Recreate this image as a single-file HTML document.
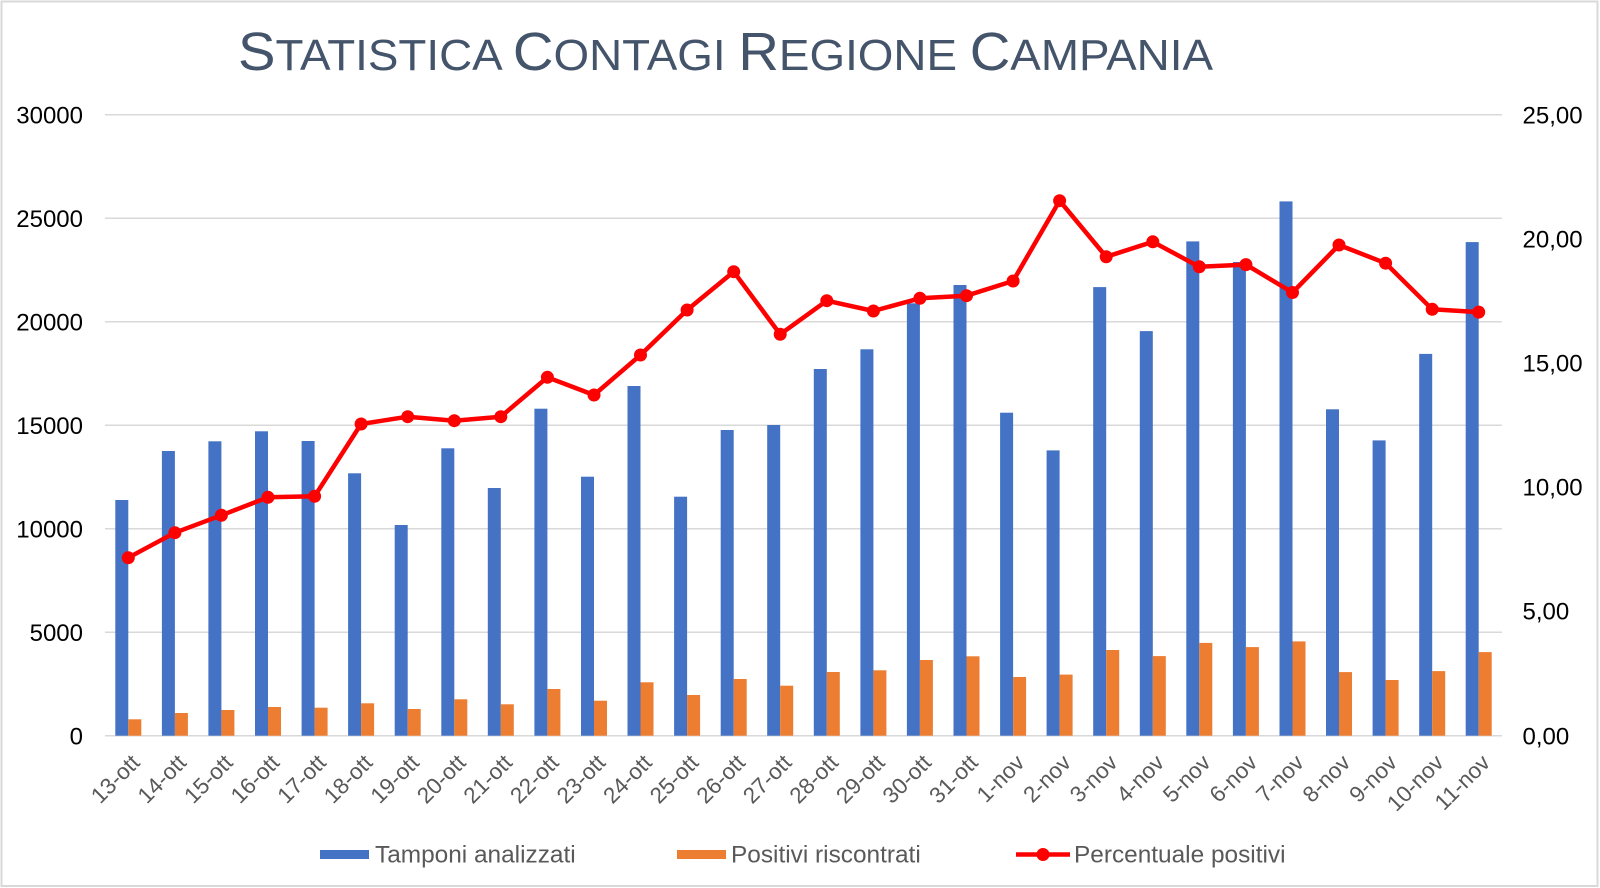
<!DOCTYPE html>
<html>
<head>
<meta charset="utf-8">
<style>
html,body{margin:0;padding:0;background:#fff;}
svg{display:block;}
text{font-family:"Liberation Sans",Arial,sans-serif;}
</style>
</head>
<body>
<svg width="1600" height="888" viewBox="0 0 1600 888" xmlns="http://www.w3.org/2000/svg">
<rect x="0" y="0" width="1600" height="888" fill="#fff"/>
<rect x="1.5" y="1.5" width="1596" height="884.5" fill="none" stroke="#d9d9d9" stroke-width="2"/>

<!-- Title -->
<text x="238" y="70" fill="#44546a" textLength="975" lengthAdjust="spacingAndGlyphs"><tspan font-size="54">S</tspan><tspan font-size="44">TATISTICA </tspan><tspan font-size="54">C</tspan><tspan font-size="44">ONTAGI </tspan><tspan font-size="54">R</tspan><tspan font-size="44">EGIONE </tspan><tspan font-size="54">C</tspan><tspan font-size="44">AMPANIA</tspan></text>

<!-- Gridlines -->
<g stroke="#d9d9d9" stroke-width="1.5">
<line x1="105" y1="114.7" x2="1502" y2="114.7"/>
<line x1="105" y1="218.2" x2="1502" y2="218.2"/>
<line x1="105" y1="321.7" x2="1502" y2="321.7"/>
<line x1="105" y1="425.2" x2="1502" y2="425.2"/>
<line x1="105" y1="528.7" x2="1502" y2="528.7"/>
<line x1="105" y1="632.2" x2="1502" y2="632.2"/>
<line x1="105" y1="735.7" x2="1502" y2="735.7"/>
</g>

<!-- Left axis labels -->
<g font-size="24" fill="#000" text-anchor="end">
<text x="83" y="123.3">30000</text>
<text x="83" y="226.8">25000</text>
<text x="83" y="330.3">20000</text>
<text x="83" y="433.8">15000</text>
<text x="83" y="537.3">10000</text>
<text x="83" y="640.8">5000</text>
<text x="83" y="744.3">0</text>
</g>

<!-- Right axis labels -->
<g font-size="24" fill="#000" text-anchor="start">
<text x="1522.5" y="123.3">25,00</text>
<text x="1522.5" y="247.3">20,00</text>
<text x="1522.5" y="371.3">15,00</text>
<text x="1522.5" y="495.3">10,00</text>
<text x="1522.5" y="619.3">5,00</text>
<text x="1522.5" y="744.3">0,00</text>
</g>

<!-- Blue bars -->
<g fill="#4472c4">
<rect x="115.3" y="500" width="13" height="235.7"/>
<rect x="161.9" y="451" width="13" height="284.7"/>
<rect x="208.4" y="441.3" width="13" height="294.4"/>
<rect x="255.0" y="431.3" width="13" height="304.4"/>
<rect x="301.6" y="441" width="13" height="294.7"/>
<rect x="348.1" y="473.3" width="13" height="262.4"/>
<rect x="394.7" y="525" width="13" height="210.7"/>
<rect x="441.3" y="448.3" width="13" height="287.4"/>
<rect x="487.8" y="488" width="13" height="247.7"/>
<rect x="534.4" y="408.7" width="13" height="327"/>
<rect x="581.0" y="476.7" width="13" height="259"/>
<rect x="627.5" y="386" width="13" height="349.7"/>
<rect x="674.1" y="496.7" width="13" height="239"/>
<rect x="720.7" y="430" width="13" height="305.7"/>
<rect x="767.2" y="425" width="13" height="310.7"/>
<rect x="813.8" y="369" width="13" height="366.7"/>
<rect x="860.4" y="349.3" width="13" height="386.4"/>
<rect x="906.9" y="303.3" width="13" height="432.4"/>
<rect x="953.5" y="285" width="13" height="450.7"/>
<rect x="1000.1" y="412.7" width="13" height="323"/>
<rect x="1046.6" y="450.4" width="13" height="285.3"/>
<rect x="1093.2" y="287.1" width="13" height="448.6"/>
<rect x="1139.8" y="331.1" width="13" height="404.6"/>
<rect x="1186.3" y="241.4" width="13" height="494.3"/>
<rect x="1232.9" y="262" width="13" height="473.7"/>
<rect x="1279.5" y="201.4" width="13" height="534.3"/>
<rect x="1326.0" y="409.3" width="13" height="326.4"/>
<rect x="1372.6" y="440.4" width="13" height="295.3"/>
<rect x="1419.2" y="353.9" width="13" height="381.8"/>
<rect x="1465.7" y="242.1" width="13" height="493.6"/>
</g>

<!-- Orange bars -->
<g fill="#ed7d31">
<rect x="128.3" y="719.3" width="13" height="16.4"/>
<rect x="174.9" y="713" width="13" height="22.7"/>
<rect x="221.4" y="710" width="13" height="25.7"/>
<rect x="268.0" y="707" width="13" height="28.7"/>
<rect x="314.6" y="707.7" width="13" height="28"/>
<rect x="361.1" y="703.3" width="13" height="32.4"/>
<rect x="407.7" y="709" width="13" height="26.7"/>
<rect x="454.3" y="699.3" width="13" height="36.4"/>
<rect x="500.8" y="704.3" width="13" height="31.4"/>
<rect x="547.4" y="689" width="13" height="46.7"/>
<rect x="594.0" y="700.7" width="13" height="35"/>
<rect x="640.5" y="682.3" width="13" height="53.4"/>
<rect x="687.1" y="695" width="13" height="40.7"/>
<rect x="733.7" y="679" width="13" height="56.7"/>
<rect x="780.2" y="685.7" width="13" height="50"/>
<rect x="826.8" y="672" width="13" height="63.7"/>
<rect x="873.4" y="670.3" width="13" height="65.4"/>
<rect x="919.9" y="660" width="13" height="75.7"/>
<rect x="966.5" y="656.3" width="13" height="79.4"/>
<rect x="1013.1" y="677" width="13" height="58.7"/>
<rect x="1059.6" y="674.6" width="13" height="61.1"/>
<rect x="1106.2" y="650" width="13" height="85.7"/>
<rect x="1152.8" y="656.1" width="13" height="79.6"/>
<rect x="1199.3" y="642.9" width="13" height="92.8"/>
<rect x="1245.9" y="647.1" width="13" height="88.6"/>
<rect x="1292.5" y="641.4" width="13" height="94.3"/>
<rect x="1339.0" y="672.1" width="13" height="63.6"/>
<rect x="1385.6" y="680" width="13" height="55.7"/>
<rect x="1432.2" y="671.1" width="13" height="64.6"/>
<rect x="1478.7" y="652.1" width="13" height="83.6"/>
</g>

<!-- Red line -->
<polyline fill="none" stroke="#ff0000" stroke-width="4.5" stroke-linejoin="round" points="128.3,557.7 174.9,532.7 221.4,515.3 268.0,497.3 314.6,496.3 361.1,424 407.7,416.7 454.3,420.7 500.8,416.7 547.4,377.3 594.0,395 640.5,355 687.1,310 733.7,271.7 780.2,334.3 826.8,300.7 873.4,311 919.9,298.3 966.5,295.7 1013.1,281 1059.6,200.7 1106.2,256.8 1152.8,241.8 1199.3,266.8 1245.9,264.6 1292.5,292.5 1339.0,245 1385.6,263.2 1432.2,309.3 1478.7,312.1"/>
<g fill="#ff0000">
<circle cx="128.3" cy="557.7" r="6.5"/>
<circle cx="174.9" cy="532.7" r="6.5"/>
<circle cx="221.4" cy="515.3" r="6.5"/>
<circle cx="268.0" cy="497.3" r="6.5"/>
<circle cx="314.6" cy="496.3" r="6.5"/>
<circle cx="361.1" cy="424" r="6.5"/>
<circle cx="407.7" cy="416.7" r="6.5"/>
<circle cx="454.3" cy="420.7" r="6.5"/>
<circle cx="500.8" cy="416.7" r="6.5"/>
<circle cx="547.4" cy="377.3" r="6.5"/>
<circle cx="594.0" cy="395" r="6.5"/>
<circle cx="640.5" cy="355" r="6.5"/>
<circle cx="687.1" cy="310" r="6.5"/>
<circle cx="733.7" cy="271.7" r="6.5"/>
<circle cx="780.2" cy="334.3" r="6.5"/>
<circle cx="826.8" cy="300.7" r="6.5"/>
<circle cx="873.4" cy="311" r="6.5"/>
<circle cx="919.9" cy="298.3" r="6.5"/>
<circle cx="966.5" cy="295.7" r="6.5"/>
<circle cx="1013.1" cy="281" r="6.5"/>
<circle cx="1059.6" cy="200.7" r="6.5"/>
<circle cx="1106.2" cy="256.8" r="6.5"/>
<circle cx="1152.8" cy="241.8" r="6.5"/>
<circle cx="1199.3" cy="266.8" r="6.5"/>
<circle cx="1245.9" cy="264.6" r="6.5"/>
<circle cx="1292.5" cy="292.5" r="6.5"/>
<circle cx="1339.0" cy="245" r="6.5"/>
<circle cx="1385.6" cy="263.2" r="6.5"/>
<circle cx="1432.2" cy="309.3" r="6.5"/>
<circle cx="1478.7" cy="312.1" r="6.5"/>
</g>

<!-- X labels -->
<g font-size="22.5" fill="#595959" text-anchor="end">
<text transform="translate(141,764) rotate(-45)">13-ott</text>
<text transform="translate(187.6,764) rotate(-45)">14-ott</text>
<text transform="translate(234.1,764) rotate(-45)">15-ott</text>
<text transform="translate(280.7,764) rotate(-45)">16-ott</text>
<text transform="translate(327.3,764) rotate(-45)">17-ott</text>
<text transform="translate(373.8,764) rotate(-45)">18-ott</text>
<text transform="translate(420.4,764) rotate(-45)">19-ott</text>
<text transform="translate(467,764) rotate(-45)">20-ott</text>
<text transform="translate(513.5,764) rotate(-45)">21-ott</text>
<text transform="translate(560.1,764) rotate(-45)">22-ott</text>
<text transform="translate(606.7,764) rotate(-45)">23-ott</text>
<text transform="translate(653.2,764) rotate(-45)">24-ott</text>
<text transform="translate(699.8,764) rotate(-45)">25-ott</text>
<text transform="translate(746.4,764) rotate(-45)">26-ott</text>
<text transform="translate(792.9,764) rotate(-45)">27-ott</text>
<text transform="translate(839.5,764) rotate(-45)">28-ott</text>
<text transform="translate(886.1,764) rotate(-45)">29-ott</text>
<text transform="translate(932.6,764) rotate(-45)">30-ott</text>
<text transform="translate(979.2,764) rotate(-45)">31-ott</text>
<text transform="translate(1025.8,764) rotate(-45)">1-nov</text>
<text transform="translate(1072.3,764) rotate(-45)">2-nov</text>
<text transform="translate(1118.9,764) rotate(-45)">3-nov</text>
<text transform="translate(1165.5,764) rotate(-45)">4-nov</text>
<text transform="translate(1212,764) rotate(-45)">5-nov</text>
<text transform="translate(1258.6,764) rotate(-45)">6-nov</text>
<text transform="translate(1305.2,764) rotate(-45)">7-nov</text>
<text transform="translate(1351.7,764) rotate(-45)">8-nov</text>
<text transform="translate(1398.3,764) rotate(-45)">9-nov</text>
<text transform="translate(1444.9,764) rotate(-45)">10-nov</text>
<text transform="translate(1491.4,764) rotate(-45)">11-nov</text>
</g>

<!-- Legend -->
<rect x="320" y="850" width="49" height="9" fill="#4472c4"/>
<text x="375" y="862.5" font-size="24.4" fill="#595959">Tamponi analizzati</text>
<rect x="677" y="850" width="49" height="9" fill="#ed7d31"/>
<text x="731" y="862.5" font-size="24.4" fill="#595959">Positivi riscontrati</text>
<line x1="1016" y1="854.5" x2="1070" y2="854.5" stroke="#ff0000" stroke-width="4.5"/>
<circle cx="1043" cy="854.5" r="6.5" fill="#ff0000"/>
<text x="1074" y="862.5" font-size="24.4" fill="#595959">Percentuale positivi</text>
</svg>
</body>
</html>
